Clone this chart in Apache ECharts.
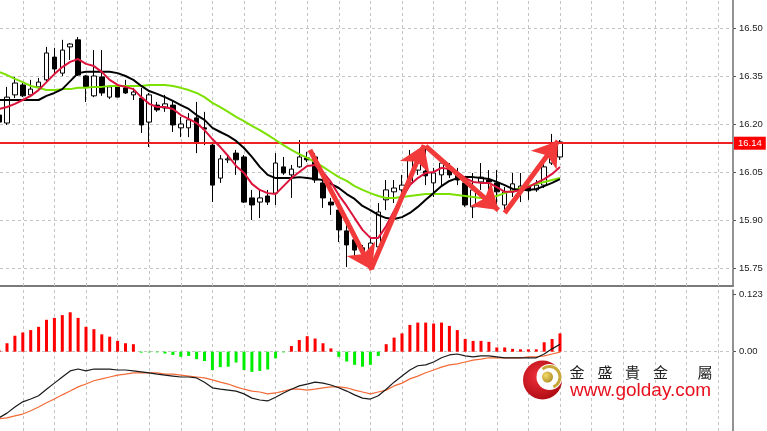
<!DOCTYPE html>
<html><head><meta charset="utf-8">
<script src="https://cdn.jsdelivr.net/npm/echarts@6/dist/echarts.min.js"></script>
<style>html,body{margin:0;padding:0;background:#fff}#c{width:767px;height:431px}</style>
</head><body><div id="c"></div>
<script>
// ---- data ----
// candles: [open, close, low, high]
const candles = [
[16.228,16.206,16.181,16.244],[16.203,16.284,16.197,16.316],[16.291,16.328,16.281,16.347],[16.322,16.288,16.284,16.328],
[16.291,16.309,16.284,16.338],[16.316,16.331,16.309,16.344],[16.338,16.422,16.331,16.441],[16.409,16.372,16.359,16.438],
[16.359,16.431,16.350,16.463],[16.441,16.450,16.400,16.453],[16.463,16.353,16.350,16.472],[16.350,16.316,16.269,16.353],
[16.288,16.350,16.284,16.431],[16.347,16.297,16.288,16.431],[16.284,16.316,16.278,16.322],[16.316,16.284,16.284,16.322],
[16.313,16.297,16.294,16.338],[16.291,16.300,16.275,16.313],[16.281,16.197,16.172,16.313],[16.206,16.291,16.128,16.297],
[16.259,16.244,16.238,16.269],[16.250,16.263,16.238,16.291],[16.259,16.197,16.175,16.275],[16.188,16.200,16.159,16.222],
[16.188,16.213,16.159,16.234],[16.219,16.144,16.109,16.269],[16.188,16.184,16.134,16.238],[16.134,16.009,15.956,16.141],
[16.031,16.091,16.016,16.103],[16.088,16.091,16.078,16.100],[16.109,16.088,16.041,16.119],[16.097,15.956,15.953,16.103],
[15.969,15.947,15.900,15.994],[15.956,15.969,15.906,15.994],[15.975,15.956,15.947,15.994],[15.984,16.078,15.947,16.109],
[16.066,16.047,16.041,16.097],[16.041,16.059,15.969,16.072],[16.066,16.097,16.063,16.150],[16.094,16.088,16.081,16.113],
[16.097,16.025,16.016,16.109],[16.016,15.969,15.938,16.025],[15.956,15.947,15.916,15.969],[15.931,15.869,15.831,15.947],
[15.866,15.822,15.753,15.894],[15.838,15.806,15.775,15.853],[15.813,15.800,15.769,15.822],[15.797,15.828,15.784,15.844],
[15.816,15.925,15.806,15.953],[15.963,15.994,15.931,16.025],[15.988,16.000,15.953,16.025],[15.994,16.009,15.978,16.041],
[16.016,16.088,16.009,16.119],[16.056,16.081,16.041,16.119],[16.053,16.038,16.009,16.131],[16.016,16.047,15.972,16.063],
[16.041,16.078,16.009,16.088],[16.063,16.041,16.031,16.078],[16.044,16.025,16.009,16.063],[16.016,15.947,15.941,16.031],
[15.941,15.994,15.906,16.047],[16.019,16.034,15.994,16.078],[16.025,16.019,15.969,16.056],[16.016,15.988,15.931,16.056],
[15.947,15.988,15.931,16.003],[15.988,16.013,15.972,16.047],[15.997,16.006,15.956,16.047],[16.003,15.991,15.963,16.016],
[15.994,16.009,15.988,16.025],[16.009,16.066,16.000,16.097],[16.078,16.103,16.072,16.169],[16.097,16.144,16.088,16.150]
];
const maFast = [16.247,16.253,16.263,16.275,16.288,16.306,16.331,16.356,16.378,16.394,
16.403,16.388,16.381,16.363,16.338,16.322,16.316,16.309,16.284,16.263,
16.253,16.253,16.247,16.228,16.216,16.203,16.181,16.153,16.128,16.100,
16.069,16.047,16.013,15.994,15.984,15.981,16.006,16.031,16.050,16.069,
16.072,16.050,16.019,15.978,15.944,15.906,15.869,15.844,15.844,15.881,
15.928,15.969,16.009,16.031,16.047,16.050,16.063,16.059,16.050,16.031,
16.019,16.016,16.016,16.003,15.988,15.988,15.994,16.003,16.016,16.028,
16.044,16.066];
const maMid = [16.275,16.275,16.275,16.275,16.275,16.275,16.288,16.297,16.309,16.334,
16.359,16.363,16.363,16.363,16.363,16.359,16.350,16.338,16.319,16.303,
16.294,16.284,16.272,16.259,16.247,16.228,16.213,16.188,16.175,16.163,
16.147,16.125,16.097,16.066,16.041,16.031,16.031,16.031,16.034,16.031,
16.028,16.025,16.013,16.000,15.981,15.966,15.944,15.931,15.916,15.906,
15.903,15.909,15.922,15.941,15.963,15.984,16.006,16.022,16.031,16.034,
16.034,16.031,16.028,16.019,16.009,15.997,15.994,15.994,15.997,16.006,
16.016,16.028];
const maSlow = [16.363,16.353,16.341,16.331,16.319,16.313,16.306,16.306,16.309,16.309,
16.313,16.313,16.316,16.316,16.319,16.319,16.319,16.319,16.319,16.322,
16.322,16.322,16.319,16.313,16.306,16.297,16.284,16.266,16.253,16.238,
16.222,16.209,16.194,16.181,16.166,16.150,16.134,16.119,16.106,16.094,
16.081,16.066,16.050,16.034,16.022,16.006,15.994,15.984,15.975,15.969,
15.969,15.972,15.975,15.978,15.981,15.981,15.981,15.981,15.978,15.975,
15.972,15.969,15.969,15.975,15.984,15.991,16.000,16.006,16.013,16.019,
16.025,16.031];
const macdHist = [0.003,0.018,0.034,0.041,0.046,0.053,0.068,0.072,0.078,0.084,
0.072,0.053,0.048,0.037,0.032,0.023,0.018,0.016,-0.002,-0.0015,
-0.0015,-0.004,-0.007,-0.011,-0.009,-0.016,-0.020,-0.039,-0.033,-0.032,
-0.023,-0.039,-0.043,-0.041,-0.038,-0.014,-0.0015,0.012,0.025,0.033,
0.028,0.018,0.007,-0.011,-0.021,-0.028,-0.032,-0.028,-0.009,0.016,
0.030,0.039,0.057,0.062,0.062,0.060,0.062,0.055,0.046,0.027,
0.023,0.023,0.021,0.009,0.009,0.006,0.005,0.005,0.005,0.020,
0.027,0.039];
const macdLine = [-0.141,-0.131,-0.118,-0.107,-0.101,-0.094,-0.080,-0.067,-0.054,-0.041,
-0.037,-0.041,-0.037,-0.037,-0.037,-0.039,-0.039,-0.041,-0.043,-0.045,
-0.048,-0.050,-0.052,-0.054,-0.054,-0.056,-0.065,-0.077,-0.080,-0.082,
-0.084,-0.090,-0.099,-0.103,-0.105,-0.097,-0.088,-0.080,-0.073,-0.069,
-0.065,-0.067,-0.071,-0.077,-0.084,-0.092,-0.099,-0.101,-0.094,-0.080,
-0.065,-0.052,-0.039,-0.030,-0.028,-0.022,-0.013,-0.007,-0.005,-0.009,
-0.011,-0.009,-0.009,-0.011,-0.013,-0.013,-0.013,-0.013,-0.013,-0.005,
0.006,0.016];
const signalLine = [-0.143,-0.141,-0.137,-0.133,-0.126,-0.118,-0.109,-0.101,-0.092,-0.084,
-0.075,-0.069,-0.062,-0.058,-0.054,-0.050,-0.048,-0.045,-0.045,-0.045,
-0.045,-0.048,-0.048,-0.050,-0.052,-0.054,-0.056,-0.060,-0.065,-0.069,
-0.075,-0.080,-0.084,-0.086,-0.090,-0.088,-0.084,-0.080,-0.080,-0.082,
-0.080,-0.077,-0.075,-0.075,-0.077,-0.082,-0.086,-0.090,-0.086,-0.082,
-0.073,-0.067,-0.058,-0.052,-0.045,-0.039,-0.033,-0.028,-0.026,-0.022,
-0.018,-0.016,-0.013,-0.013,-0.013,-0.013,-0.013,-0.011,-0.011,-0.009,
-0.005,-0.001];
const priceTicks = [16.50, 16.35, 16.20, 16.05, 15.90, 15.75];
const macdTicks = [0.123, 0];
const macdTopLabel = '0.123';
const gridBars = [3,7,11,15,19,23,27,31,35,39,43,47,51,55,59,63,67,71,75,79,83,87,91];
const levelPrice = 16.14;
// annotation arrows: [bar index, price] start -> tip
const arrowPaths = [
  [[39.35,16.119],[47.2,15.744]],
  [[47.1,15.747],[53.8,16.134]],
  [[54.0,16.131],[63.2,15.931]],
  [[64.0,15.922],[70.75,16.147]]
];

// ---- chart ----
const idx = a => a.map((v, i) => [i, v]);
const X_MIN = 0.114, X_MAX = 92.9;
const gridLine = {color: '#c4c4c4', width: 1, type: [3, 3]};
const fontFam = 'Liberation Sans, Arial, sans-serif';

const chart = echarts.init(document.getElementById('c'), null, {renderer: 'canvas'});
chart.setOption({
  animation: false,
  backgroundColor: '#ffffff',
  grid: [
    {left: 0, top: 0, width: 733, height: 286, outerBoundsMode: 'none', containLabel: false},
    {left: 0, top: 290, width: 733, height: 141, outerBoundsMode: 'none', containLabel: false}
  ],
  xAxis: [
    {type: 'value', gridIndex: 0, min: X_MIN, max: X_MAX,
     axisLine: {show: true, onZero: false, lineStyle: {color: '#7a7a7a', width: 2}},
     axisTick: {show: false}, axisLabel: {show: false}, splitLine: {show: false}},
    {type: 'value', gridIndex: 1, min: X_MIN, max: X_MAX,
     axisLine: {show: false}, axisTick: {show: false}, axisLabel: {show: false}, splitLine: {show: false}}
  ],
  yAxis: [
    {type: 'value', gridIndex: 0, position: 'right', min: 15.69375, max: 16.5875,
     axisLine: {show: true, onZero: false, lineStyle: {color: '#6e6e6e', width: 1.5}},
     axisTick: {show: true, length: 3, customValues: priceTicks, lineStyle: {color: '#555'}},
     axisLabel: {show: true, customValues: priceTicks, formatter: v => v.toFixed(2), margin: 6,
                 color: '#222', fontSize: 9.5, fontFamily: fontFam},
     splitLine: {show: false}},
    {type: 'value', gridIndex: 1, position: 'right', min: -0.1691, max: 0.1315,
     axisLine: {show: true, onZero: false, lineStyle: {color: '#6e6e6e', width: 1.5}},
     axisTick: {show: true, length: 3, customValues: macdTicks, lineStyle: {color: '#555'}},
     axisLabel: {show: true, customValues: macdTicks, formatter: v => (v === 0 ? '0.00' : macdTopLabel), margin: 6,
                 color: '#222', fontSize: 9.5, fontFamily: fontFam},
     splitLine: {show: false}}
  ],
  series: [
    {type: 'line', xAxisIndex: 0, yAxisIndex: 0, data: [], symbol: 'none', silent: true,
     markLine: {silent: true, z: 1, symbol: 'none', label: {show: false}, lineStyle: gridLine, animation: false,
       data: priceTicks.map(v => ({yAxis: v})).concat(gridBars.map(v => ({xAxis: v})))}},
    {type: 'line', xAxisIndex: 1, yAxisIndex: 1, data: [], symbol: 'none', silent: true,
     markLine: {silent: true, z: 1, symbol: 'none', label: {show: false}, lineStyle: gridLine, animation: false,
       data: [{yAxis: 0}].concat(gridBars.map(v => ({xAxis: v})))}},
    {type: 'candlestick', xAxisIndex: 0, yAxisIndex: 0, z: 2,
     data: candles.map((c, i) => [i, c[0], c[1], c[2], c[3]]),
     encode: {x: 0, y: [1, 2, 3, 4]},
     barWidth: 5, silent: true,
     itemStyle: {color: '#ffffff', color0: '#000000', borderColor: '#000000', borderColor0: '#000000', borderWidth: 1}},
    {type: 'line', xAxisIndex: 0, yAxisIndex: 0, data: [], symbol: 'none', silent: true,
     markLine: {silent: true, z: 3, symbol: 'none', animation: false,
       lineStyle: {color: '#ee2222', width: 2, type: 'solid'},
       label: {show: true, position: 'end', distance: 1, formatter: levelPrice.toFixed(2),
               backgroundColor: '#ff0000', color: '#ffffff', padding: [2, 4, 1, 4],
               fontSize: 9.5, fontFamily: fontFam},
       data: [{yAxis: levelPrice}]}},
    {type: 'line', xAxisIndex: 0, yAxisIndex: 0, data: idx(maSlow), symbol: 'none', z: 4, silent: true,
     lineStyle: {color: '#7ce000', width: 2}},
    {type: 'line', xAxisIndex: 0, yAxisIndex: 0, data: idx(maMid), symbol: 'none', z: 4, silent: true,
     lineStyle: {color: '#000000', width: 2}},
    {type: 'line', xAxisIndex: 0, yAxisIndex: 0, data: idx(maFast), symbol: 'none', z: 4, silent: true,
     lineStyle: {color: '#dc143c', width: 2}},
    {type: 'line', xAxisIndex: 0, yAxisIndex: 0, data: [], symbol: 'none', silent: true,
     markLine: {silent: true, z: 6, symbol: ['none', 'arrow'], symbolSize: 24, animation: false,
       label: {show: false}, lineStyle: {color: '#f23a3a', width: 5, type: 'solid'},
       data: arrowPaths.map(p => [{coord: p[0]}, {coord: p[1]}])}},
    {type: 'bar', xAxisIndex: 1, yAxisIndex: 1, data: idx(macdHist), barWidth: 3, silent: true, z: 2,
     itemStyle: {color: p => (p.value[1] >= 0 ? '#ff0000' : '#00ee00')}},
    {type: 'line', xAxisIndex: 1, yAxisIndex: 1, data: idx(signalLine), symbol: 'none', z: 3, silent: true,
     lineStyle: {color: '#f26a36', width: 1.2}},
    {type: 'line', xAxisIndex: 1, yAxisIndex: 1, data: idx(macdLine), symbol: 'none', z: 4, silent: true,
     lineStyle: {color: '#1a1a1a', width: 1.2}}
  ],
  graphic: [
    {type: 'circle', z: 100, shape: {cx: 542.5, cy: 380, r: 19.5},
     style: {fill: new echarts.graphic.RadialGradient(0.4, 0.4, 0.7, [{offset: 0, color: '#f0303a'}, {offset: 1, color: '#a80810'}])}},
    {type: 'circle', z: 101, shape: {cx: 549.5, cy: 377, r: 13}, style: {fill: '#ffffff'}},
    {type: 'arc', z: 102, shape: {cx: 549.5, cy: 377, r: 10.5, startAngle: -2.3, endAngle: 1.2},
     style: {stroke: '#c9a83a', lineWidth: 3, fill: null}},
    {type: 'circle', z: 103, shape: {cx: 547.5, cy: 377, r: 5.5},
     style: {fill: new echarts.graphic.RadialGradient(0.35, 0.35, 0.8, [{offset: 0, color: '#f4dc6a'}, {offset: 1, color: '#a8861e'}])}},
    {type: 'text', z: 104, x: 577, y: 372.5, style: {text: '金', fill: '#222', font: '15px "Noto Sans CJK TC"', align: 'center', verticalAlign: 'middle'}},
    {type: 'text', z: 104, x: 605, y: 372.5, style: {text: '盛', fill: '#222', font: '15px "Noto Sans CJK TC"', align: 'center', verticalAlign: 'middle'}},
    {type: 'text', z: 104, x: 632.5, y: 372.5, style: {text: '貴', fill: '#222', font: '15px "Noto Sans CJK TC"', align: 'center', verticalAlign: 'middle'}},
    {type: 'text', z: 104, x: 660.5, y: 372.5, style: {text: '金', fill: '#222', font: '15px "Noto Sans CJK TC"', align: 'center', verticalAlign: 'middle'}},
    {type: 'text', z: 104, x: 705, y: 372.5, style: {text: '屬', fill: '#222', font: '15px "Noto Sans CJK TC"', align: 'center', verticalAlign: 'middle'}},
    {type: 'text', z: 104, x: 570, y: 390.5, style: {text: 'www.golday.com', fill: '#e8101e', font: '19px "Liberation Sans", Arial, sans-serif', align: 'left', verticalAlign: 'middle'}}
  ]
});
</script>
</body></html>
